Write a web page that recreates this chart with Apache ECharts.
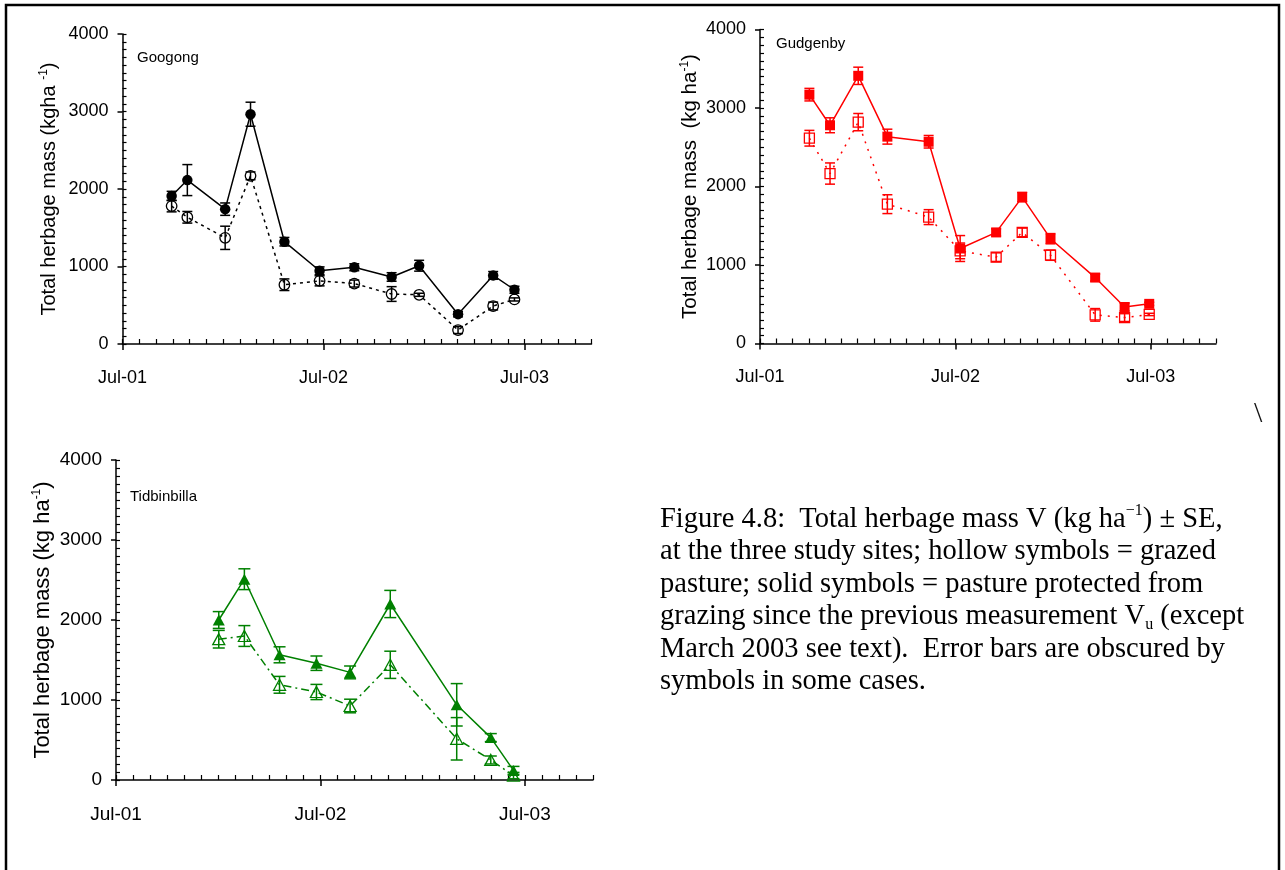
<!DOCTYPE html>
<html>
<head>
<meta charset="utf-8">
<script src="https://cdn.jsdelivr.net/npm/echarts@6/dist/echarts.min.js"></script>
<style>
  html, body { margin: 0; padding: 0; background: #fff; }
  #chart { width: 1285px; height: 870px; }
</style>
</head>
<body>
<div id="chart"></div>
<script>
// Sampling dates, mean total herbage mass (kg/ha) and standard errors per site.
// "protected" = solid symbols, "grazed" = hollow symbols.
const googongDates = ['2001-09-29', '2001-10-28', '2002-01-05', '2002-02-19', '2002-04-21', '2002-06-24',
                      '2002-08-27', '2002-11-03', '2002-12-23', '2003-03-02', '2003-05-05', '2003-06-13'];
const googongProtected   = [1910, 2115, 1740, 2965, 1320, 945, 990, 865, 1010, 385, 885, 700];
const googongProtectedSE = [60, 200, 80, 155, 55, 50, 45, 55, 70, 35, 50, 45];
const googongGrazed      = [1780, 1635, 1370, 2170, 765, 815, 780, 645, 635, 180, 490, 575];
const googongGrazedSE    = [75, 75, 150, 50, 75, 65, 45, 95, 20, 45, 50, 20];

const gudgenbyDates = ['2001-10-02', '2001-11-10', '2002-01-02', '2002-02-24', '2002-05-12', '2002-07-10',
                       '2002-09-16', '2002-11-04', '2002-12-27', '2003-03-19', '2003-05-13', '2003-06-28'];
const gudgenbyProtected   = [3170, 2780, 3410, 2635, 2570, 1210, 1415, 1865, 1335, 840, 465, 505];
const gudgenbyProtectedSE = [80, 95, 110, 95, 80, 165, 45, 60, 65, 45, 50, 20];
const gudgenbyGrazed      = [2615, 2165, 2820, 1775, 1610, 1180, 1100, 1415, 1125, 365, 330, 370];
const gudgenbyGrazedSE    = [100, 135, 110, 120, 95, 100, 55, 55, 65, 80, 50, 15];

const tidbinbillaDates = ['2002-01-02', '2002-02-16', '2002-04-19', '2002-06-24', '2002-08-24',
                          '2002-11-04', '2003-03-01', '2003-05-01', '2003-06-11'];
const tidbinbillaProtected   = [2000, 2510, 1565, 1460, 1345, 2200, 940, 530, 120];
const tidbinbillaProtectedSE = [105, 130, 100, 90, 80, 170, 265, 50, 50];
const tidbinbillaGrazed      = [1760, 1800, 1190, 1100, 925, 1440, 515, 250, 55];
const tidbinbillaGrazedSE    = [110, 130, 105, 95, 85, 170, 265, 50, 40];

// Axis ticks: x in months since July 2001
const xTickValues = [0, 12, 24];
const xTickLabels = ['Jul-01', 'Jul-02', 'Jul-03'];
const xMax = 28;
const yMax = 4000;
const yMajorStep = 1000;
const yMinorStep = 100;

const SANS = "'Liberation Sans', Arial, Helvetica, sans-serif";
const SERIF = "'Liberation Serif', 'Times New Roman', serif";

function monthsSinceJul01(dateStr) {
  const [y, m, d] = dateStr.split('-').map(Number);
  const daysInMonth = new Date(y, m, 0).getDate();
  return (y - 2001) * 12 + (m - 7) + (d - 1) / daysInMonth;
}

const panels = [
  {
    title: 'Googong', titlePos: [137, 50],
    grid: { left: 122.5, top: 34, width: 469, height: 310 },
    color: '#000000', symbol: 'circle', size: 10.5, cap: 10, dash: [3, 4],
    yName: 'Total herbage mass (kgha {s|-1})', nameGap: 62, nameSize: 20,
    labelSize: 18, xMargin: 25,
    dates: googongDates,
    protectedV: googongProtected, protectedSE: googongProtectedSE,
    grazedV: googongGrazed, grazedSE: googongGrazedSE
  },
  {
    title: 'Gudgenby', titlePos: [776, 36],
    grid: { left: 760, top: 29.5, width: 456, height: 314 },
    color: '#ff0000', symbol: 'rect', size: 10, cap: 10, dash: [2, 6],
    yName: 'Total herbage mass  (kg ha{s|-1})', nameGap: 55, nameSize: 20.5,
    labelSize: 18, xMargin: 25,
    dates: gudgenbyDates,
    protectedV: gudgenbyProtected, protectedSE: gudgenbyProtectedSE,
    grazedV: gudgenbyGrazed, grazedSE: gudgenbyGrazedSE
  },
  {
    title: 'Tidbinbilla', titlePos: [130, 489],
    grid: { left: 116, top: 460, width: 477, height: 320 },
    color: '#008000', symbol: 'triangle', size: [12, 11], cap: 12, dash: [8, 4, 2, 4],
    yName: 'Total herbage mass (kg ha{s|-1})', nameGap: 53, nameSize: 22,
    labelSize: 19, xMargin: 25,
    dates: tidbinbillaDates,
    protectedV: tidbinbillaProtected, protectedSE: tidbinbillaProtectedSE,
    grazedV: tidbinbillaGrazed, grazedSE: tidbinbillaGrazedSE
  }
];

const grids = [], xAxes = [], yAxes = [], series = [], titles = [];

function errorBarSeries(axisIdx, p, values, se) {
  return {
    type: 'custom',
    xAxisIndex: axisIdx, yAxisIndex: axisIdx,
    z: 1, silent: true, animation: false,
    data: p.dates.map((d, k) => [monthsSinceJul01(d), values[k] - se[k], values[k] + se[k]]),
    encode: { x: 0, y: [1, 2] },
    renderItem(params, api) {
      const x = api.value(0);
      const lo = api.coord([x, api.value(1)]);
      const hi = api.coord([x, api.value(2)]);
      const hw = p.cap / 2;
      const style = { stroke: p.color, lineWidth: 1.5 };
      return {
        type: 'group',
        children: [
          { type: 'line', shape: { x1: lo[0], y1: lo[1], x2: hi[0], y2: hi[1] }, style },
          { type: 'line', shape: { x1: lo[0] - hw, y1: lo[1], x2: lo[0] + hw, y2: lo[1] }, style },
          { type: 'line', shape: { x1: hi[0] - hw, y1: hi[1], x2: hi[0] + hw, y2: hi[1] }, style }
        ]
      };
    }
  };
}

panels.forEach((p, i) => {
  grids.push(Object.assign({}, p.grid));
  const major = i * 2;

  // labelled x axis with yearly ticks pointing down
  xAxes.push({
    gridIndex: i, type: 'value', min: 0, max: xMax, position: 'bottom',
    axisLine: { show: true, onZero: false, lineStyle: { color: '#000', width: 1.5 } },
    axisTick: { show: true, inside: false, length: 6, customValues: xTickValues,
                lineStyle: { color: '#000', width: 1.5 } },
    axisLabel: { show: true, customValues: xTickValues, margin: p.xMargin,
                 formatter: v => xTickLabels[xTickValues.indexOf(v)] || '',
                 color: '#000', fontSize: p.labelSize, fontFamily: SANS },
    splitLine: { show: false }
  });
  // monthly ticks pointing inward
  xAxes.push({
    gridIndex: i, type: 'value', min: 0, max: xMax, interval: 1, position: 'bottom',
    axisLine: { show: false, onZero: false },
    axisTick: { show: true, inside: true, length: 5, lineStyle: { color: '#000', width: 1.2 } },
    axisLabel: { show: false }, splitLine: { show: false }
  });
  yAxes.push({
    gridIndex: i, type: 'value', min: 0, max: yMax, interval: yMajorStep, position: 'left',
    axisLine: { show: true, onZero: false, lineStyle: { color: '#000', width: 1.5 } },
    axisTick: { show: true, inside: false, length: 5, lineStyle: { color: '#000', width: 1.5 } },
    axisLabel: { show: true, margin: 14, color: '#000', fontSize: p.labelSize, fontFamily: SANS,
                 formatter: v => String(v) },
    splitLine: { show: false },
    name: p.yName, nameLocation: 'middle', nameRotate: 90, nameGap: p.nameGap,
    nameTextStyle: {
      color: '#000', fontSize: p.nameSize, fontFamily: SANS, lineHeight: p.nameSize + 3,
      rich: { s: { fontSize: 12, fontFamily: SANS, color: '#000', verticalAlign: 'top', lineHeight: 12 } }
    }
  });
  yAxes.push({
    gridIndex: i, type: 'value', min: 0, max: yMax, interval: yMinorStep, position: 'left',
    axisLine: { show: false, onZero: false },
    axisTick: { show: true, inside: true, length: 4, lineStyle: { color: '#000', width: 1.2 } },
    axisLabel: { show: false }, splitLine: { show: false }
  });

  // grazed pasture: hollow symbols, broken line
  series.push({
    type: 'line', xAxisIndex: major, yAxisIndex: major, z: 2, animation: false,
    data: p.dates.map((d, k) => [monthsSinceJul01(d), p.grazedV[k]]),
    symbol: p.symbol, symbolSize: p.size, showAllSymbol: true,
    lineStyle: { color: p.color, width: 1.5, type: p.dash },
    itemStyle: { color: 'rgba(255,255,255,0)', borderColor: p.color, borderWidth: 1.3 }
  });
  series.push(errorBarSeries(major, p, p.grazedV, p.grazedSE));
  series.push(errorBarSeries(major, p, p.protectedV, p.protectedSE));
  // protected pasture: solid symbols, solid line
  series.push({
    type: 'line', xAxisIndex: major, yAxisIndex: major, z: 3, animation: false,
    data: p.dates.map((d, k) => [monthsSinceJul01(d), p.protectedV[k]]),
    symbol: p.symbol, symbolSize: p.size, showAllSymbol: true,
    lineStyle: { color: p.color, width: 1.5, type: 'solid' },
    itemStyle: { color: p.color, borderColor: p.color, borderWidth: 0 }
  });

  titles.push({
    text: p.title, left: p.titlePos[0], top: p.titlePos[1], padding: 0,
    textStyle: { color: '#000', fontSize: 15, fontWeight: 'normal', fontFamily: SANS }
  });
});

const captionText =
  'Figure 4.8:  Total herbage mass V (kg ha{sup|\u22121}) \u00b1 SE,\n' +
  'at the three study sites; hollow symbols = grazed\n' +
  'pasture; solid symbols = pasture protected from\n' +
  'grazing since the previous measurement V{sub|u} (except\n' +
  'March 2003 see text).  Error bars are obscured by\n' +
  'symbols in some cases.';

const chart = echarts.init(document.getElementById('chart'), null, { renderer: 'canvas' });
chart.setOption({
  backgroundColor: '#fff',
  animation: false,
  title: titles,
  grid: grids,
  xAxis: xAxes,
  yAxis: yAxes,
  series: series,
  graphic: [
    {
      type: 'rect', silent: true, z: 100,
      shape: { x: 6, y: 5, width: 1273, height: 1000 },
      style: { fill: 'none', stroke: '#000', lineWidth: 2.5 }
    },
    {
      type: 'text', x: 660, y: 503, silent: true,
      style: {
        text: captionText, fill: '#000', font: '28.5px ' + SERIF, lineHeight: 32.5,
        rich: {
          sup: { fontSize: 16, fontFamily: SERIF, fill: '#000', verticalAlign: 'top', lineHeight: 17 },
          sub: { fontSize: 16, fontFamily: SERIF, fill: '#000', verticalAlign: 'bottom', lineHeight: 14 }
        }
      }
    },
    {
      type: 'text', x: 1254, y: 399, silent: true,
      style: { text: '\\', fill: '#111', font: '30px ' + SERIF }
    }
  ]
});
</script>
</body>
</html>
